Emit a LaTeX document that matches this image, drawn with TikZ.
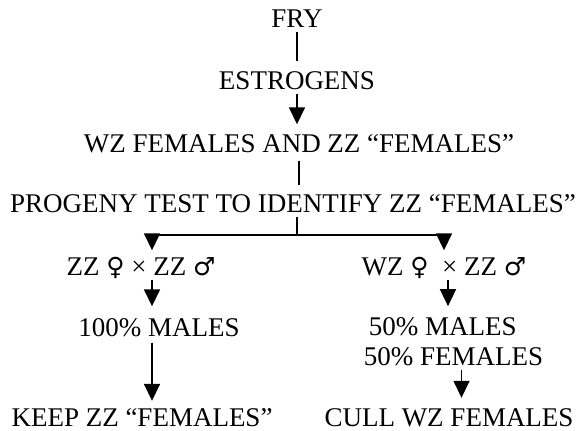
\documentclass[tikz,border=0pt]{standalone}
\usepackage{fontspec}
\setmainfont{Liberation Serif}
\newfontfamily\symfont{DejaVu Sans}
\usetikzlibrary{arrows.meta}
\newcommand{\fem}{{\symfont\fontsize{25}{26}\selectfont ♀}}
\newcommand{\mal}{{\symfont\fontsize{25}{26}\selectfont ♂}}
\tikzstyle{stage} = [
    inner xsep=0pt, inner ysep=4pt,
    text height=18pt, text depth=0pt,
    font=\fontsize{27}{30}\selectfont
]
\tikzstyle{link} = [line width=1.6pt, shorten >=6pt]
\tikzstyle{arrow} = [line width=1.6pt, ->, >={Triangle[length=17pt, width=16pt]}, shorten >=6pt]
\begin{document}
\begin{tikzpicture}[x=1pt, y=1pt, node distance=62pt]
        \useasboundingbox (0,0) rectangle (584,-431);
        % Draw stages
        \node (fry) [stage] at (297,-18.5) {FRY};
        \node (estro) [stage, below of=fry] {ESTROGENS};
        \node (mixed) [stage, below of=estro, xshift=2pt, yshift=-1pt] {WZ FEMALES AND ZZ “FEMALES”};
        \node (test) [stage, below of=mixed, xshift=-6pt, yshift=2pt] {PROGENY TEST TO IDENTIFY ZZ “FEMALES”};
        \node (lcross) [stage, below of=test, xshift=-152pt, yshift=-1pt] {ZZ \fem\ × ZZ \mal};
        \node (rcross) [stage, below of=test, xshift=151pt, yshift=-1pt] {WZ \fem\ \ × ZZ \mal};
        \node (hundred) [stage, below of=lcross, xshift=18pt, yshift=1pt] {100\% MALES};
        \node (half) [stage, below of=rcross, xshift=9.5pt, yshift=-13pt, text height=, text depth=, align=left] {\hspace*{5pt}50\% MALES\\50\% FEMALES};
        \node (keep) [stage, inner ysep=1pt, below of=hundred, xshift=-17pt, yshift=-27.5pt] {KEEP ZZ “FEMALES”};
        \node (cull) [stage, inner ysep=1pt, below of=half, xshift=-4.5pt, yshift=-13.5pt] {CULL WZ FEMALES};
        \coordinate (split) at (297,-235);
        \coordinate (lcol) at (152,0);
        \coordinate (rcol) at (444,0);

        % Draw connectors
        \draw [link] (fry.south -| split) -- (fry.south |- estro.north);
        \draw [arrow] (estro.south) -- (estro.south |- mixed.north);
        \draw [link, shorten <=4pt, shorten >=5pt] (mixed.south) -- (mixed.south |- test.north);
        \draw [line width=1.6pt] (test.south -| split) -- (split);
        \draw [arrow, shorten >=3pt] (split) -| (lcol |- lcross.north);
        \draw [arrow, shorten >=3pt] (split) -| (rcol |- rcross.north);
        \draw [arrow, shorten >=8pt] (lcol |- lcross.south) -- (lcol |- hundred.north);
        \draw [arrow, shorten <=2pt, shorten >=6pt] (lcol |- hundred.south) -- (lcol |- keep.north);
        \draw [arrow, shorten >=7pt] ([xshift=4pt]rcross.south) -- ([xshift=4pt]rcross.south |- half.north);
        \draw [arrow, shorten >=9pt] ([xshift=8pt]half.south) -- ([xshift=8pt]half.south |- cull.north);
    \end{tikzpicture}
\end{document}
